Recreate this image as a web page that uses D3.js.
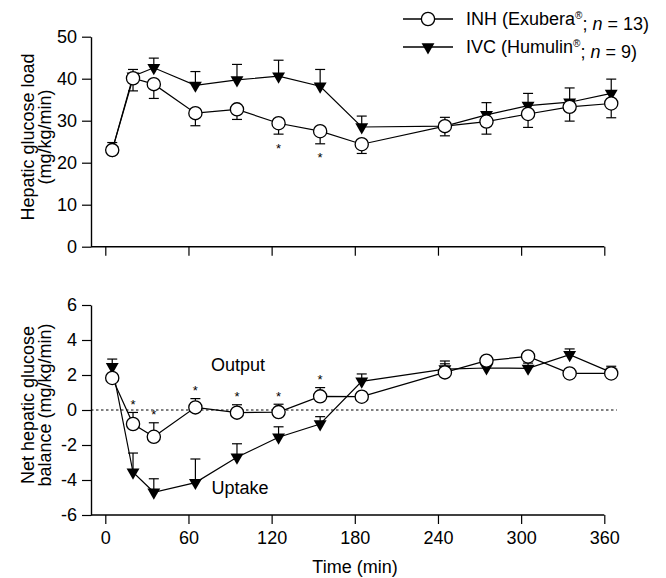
<!DOCTYPE html>
<html>
<head>
<meta charset="utf-8">
<script src="https://cdn.jsdelivr.net/npm/d3@7"></script>
<style>
  html, body { margin: 0; padding: 0; background: #fff; }
  svg { display: block; font-family: "Liberation Sans", Arial, Helvetica, sans-serif; }
</style>
</head>
<body>
<script>
// Sampling times (min)
const times = [5, 20, 35, 65, 95, 125, 155, 185, 245, 275, 305, 335, 365];

// Hepatic glucose load (mg/kg/min), mean and SEM
const inhLoad = [23.0, 40.1, 38.7, 31.8, 32.7, 29.4, 27.5, 24.4, 28.7, 29.8, 31.6, 33.3, 34.1];
const inhLoadErr = [1.0, 3.0, 3.4, 3.0, 2.4, 2.6, 3.0, 2.2, 2.3, 3.0, 3.2, 3.4, 3.4];
const ivcLoad = [23.0, 40.6, 42.6, 38.4, 39.7, 40.6, 38.2, 28.5, 28.7, 31.4, 33.6, 34.4, 36.5];
const ivcLoadErr = [1.8, 1.6, 2.3, 3.3, 3.7, 3.8, 4.0, 2.6, 2.1, 2.9, 2.9, 3.4, 3.4];

// Net hepatic glucose balance (mg/kg/min), mean and SEM
const inhBal = [1.83, -0.8, -1.53, 0.15, -0.15, -0.12, 0.78, 0.76, 2.15, 2.82, 3.06, 2.09, 2.09];
const inhBalErr = [0.2, 0.66, 0.8, 0.5, 0.45, 0.45, 0.5, 0.2, 0.65, 0.2, 0.2, 0.2, 0.3];
const ivcBal = [2.47, -3.56, -4.7, -4.15, -2.7, -1.56, -0.8, 1.64, 2.34, 2.4, 2.38, 3.16, 2.15];
const ivcBalErr = [0.44, 1.1, 0.77, 1.35, 0.77, 0.6, 0.42, 0.42, 0.3, 0.3, 0.3, 0.33, 0.35];

// Times with significant differences
const loadStars = [125, 155];
const balStars = [20, 35, 65, 95, 125, 155];

const xTicks = [0, 60, 120, 180, 240, 300, 360];
const loadTicks = [0, 10, 20, 30, 40, 50];
const balTicks = [-6, -4, -2, 0, 2, 4, 6];

const W = 666, H = 578;
const axisX = 91;
const fontSize = 18;

const svg = d3.select("body").append("svg").attr("width", W).attr("height", H);

const x = d3.scaleLinear().domain([0, 360]).range([105.3, 604.3]);
const yLoad = d3.scaleLinear().domain([0, 50]).range([246.7, 36.7]);
const yBal = d3.scaleLinear().domain([-6, 6]).range([515, 305]);

const triangle = d3.symbol().type(d3.symbolTriangle).size(72);

function drawPanel(y, yTicks, showXLabels, series, zeroLine) {
  const g = svg.append("g");

  // y axis
  const ya = g.append("g")
    .attr("transform", `translate(${axisX},0)`)
    .call(d3.axisLeft(y).tickValues(yTicks).tickSize(9).tickSizeOuter(0).tickPadding(5)
      .tickFormat(d => String(d)));
  ya.select(".domain").attr("stroke-width", 1.4);
  ya.selectAll(".tick line").attr("stroke-width", 1.2);
  ya.selectAll("text").attr("font-size", fontSize).attr("font-family", null);

  // x axis
  const y0 = y.range()[0];
  const xa = g.append("g")
    .attr("transform", `translate(0,${y0})`)
    .call(d3.axisBottom(x).tickValues(xTicks).tickSize(9).tickSizeOuter(0).tickPadding(7)
      .tickFormat(showXLabels ? (d => String(d)) : () => ""));
  xa.select(".domain").remove();
  xa.append("line").attr("x1", axisX).attr("x2", x(360)).attr("stroke", "#000").attr("stroke-width", 1.4);
  xa.selectAll(".tick line").attr("stroke-width", 1.2);
  xa.selectAll("text").attr("font-size", fontSize).attr("font-family", null);

  if (zeroLine) {
    g.append("line")
      .attr("x1", axisX).attr("x2", x(369))
      .attr("y1", y(0)).attr("y2", y(0))
      .attr("stroke", "#000").attr("stroke-width", 1)
      .attr("stroke-dasharray", "2.5,2.5");
  }

  // series: each {vals, errs, dir, marker}
  series.forEach(s => {
    const pts = times.map((t, i) => ({ t, v: s.vals[i], e: s.errs[i] }));
    const line = d3.line().x(d => x(d.t)).y(d => y(d.v));
    g.append("path").datum(pts).attr("d", line)
      .attr("fill", "none").attr("stroke", "#000").attr("stroke-width", 1.2);

    const eb = g.append("g").selectAll("g").data(pts).join("g");
    eb.append("line")
      .attr("x1", d => x(d.t)).attr("x2", d => x(d.t))
      .attr("y1", d => y(d.v)).attr("y2", d => y(d.v + s.dir * d.e))
      .attr("stroke", "#000").attr("stroke-width", 1.2);
    eb.append("line")
      .attr("x1", d => x(d.t) - 5).attr("x2", d => x(d.t) + 5)
      .attr("y1", d => y(d.v + s.dir * d.e)).attr("y2", d => y(d.v + s.dir * d.e))
      .attr("stroke", "#000").attr("stroke-width", 1.2);
  });

  series.forEach(s => {
    const pts = times.map((t, i) => ({ t, v: s.vals[i] }));
    if (s.marker === "circle") {
      g.append("g").selectAll("circle").data(pts).join("circle")
        .attr("cx", d => x(d.t)).attr("cy", d => y(d.v)).attr("r", 6.6)
        .attr("fill", "#fff").attr("stroke", "#000").attr("stroke-width", 1.3);
    } else {
      g.append("g").selectAll("path").data(pts).join("path")
        .attr("d", triangle)
        .attr("transform", d => `translate(${x(d.t)},${y(d.v)}) rotate(180)`)
        .attr("fill", "#000");
    }
  });
  return g;
}

// Top panel: IVC first, INH on top
drawPanel(yLoad, loadTicks, false, [
  { vals: ivcLoad, errs: ivcLoadErr, dir: 1, marker: "triangle" },
  { vals: inhLoad, errs: inhLoadErr, dir: -1, marker: "circle" }
], false);

// Bottom panel
drawPanel(yBal, balTicks, true, [
  { vals: ivcBal, errs: ivcBalErr, dir: 1, marker: "triangle" },
  { vals: inhBal, errs: inhBalErr, dir: 1, marker: "circle" }
], true);

// asterisks
const starSize = 13;
svg.append("g").selectAll("text").data(loadStars).join("text")
  .attr("x", t => x(t))
  .attr("y", t => { const i = times.indexOf(t); return yLoad(inhLoad[i] - inhLoadErr[i]) + 11 + 7.5; })
  .attr("text-anchor", "middle").attr("font-size", starSize).text("*");
svg.append("g").selectAll("text").data(balStars).join("text")
  .attr("x", t => x(t))
  .attr("y", t => { const i = times.indexOf(t); return yBal(inhBal[i] + inhBalErr[i]) - 11 + 7.5; })
  .attr("text-anchor", "middle").attr("font-size", starSize).text("*");

// Annotations
svg.append("text").attr("x", 238).attr("y", 371).attr("text-anchor", "middle")
  .attr("font-size", fontSize).text("Output");
svg.append("text").attr("x", 240).attr("y", 494).attr("text-anchor", "middle")
  .attr("font-size", fontSize).text("Uptake");

// Axis titles
function yTitle(lines, cy) {
  const t = svg.append("text")
    .attr("transform", `translate(34,${cy}) rotate(-90)`)
    .attr("text-anchor", "middle").attr("font-size", fontSize);
  lines.forEach((l, i) => t.append("tspan").attr("x", 0).attr("dy", i === 0 ? 0 : 17).text(l));
}
yTitle(["Hepatic glucose load", "(mg/kg/min)"], 137);
yTitle(["Net hepatic glucose", "balance (mg/kg/min)"], 405);

svg.append("text").attr("x", 355).attr("y", 573).attr("text-anchor", "middle")
  .attr("font-size", fontSize).text("Time (min)");

// Legend
const legend = svg.append("g");
const legendRows = [
  { marker: "circle", name: "INH (Exubera", n: "13", y: 19 },
  { marker: "triangle", name: "IVC (Humulin", n: "9", y: 47 }
];
legendRows.forEach(r => {
  legend.append("line").attr("x1", 403).attr("x2", 453).attr("y1", r.y).attr("y2", r.y)
    .attr("stroke", "#000").attr("stroke-width", 1.3);
  if (r.marker === "circle") {
    legend.append("circle").attr("cx", 428).attr("cy", r.y).attr("r", 6.6)
      .attr("fill", "#fff").attr("stroke", "#000").attr("stroke-width", 1.3);
  } else {
    legend.append("path").attr("d", triangle)
      .attr("transform", `translate(428,${r.y}) rotate(180)`).attr("fill", "#000");
  }
  const t = legend.append("text").attr("x", 466).attr("y", r.y).attr("dy", "0.35em")
    .attr("font-size", fontSize);
  t.append("tspan").text(r.name);
  t.append("tspan").attr("font-size", 10).attr("dy", "-0.6em").text("®");
  t.append("tspan").attr("dy", "0.6em").text("; ");
  t.append("tspan").attr("font-style", "italic").text("n");
  t.append("tspan").text(" = " + r.n + ")");
});
</script>
</body>
</html>
